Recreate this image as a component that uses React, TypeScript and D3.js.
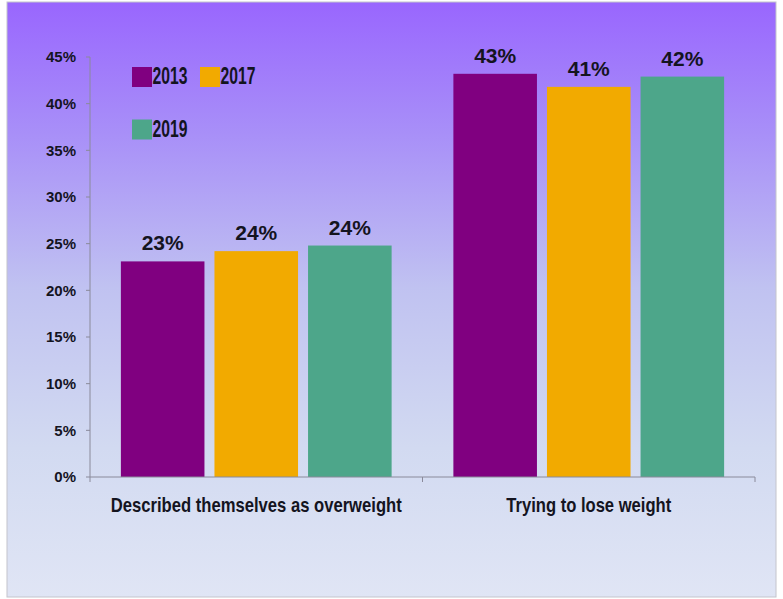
import React from "react";
import * as d3 from "d3";

const categories = ["Described themselves as overweight", "Trying to lose weight"];
const years = ["2013", "2017", "2019"];
const values2013 = [23.1, 43.2];
const values2017 = [24.2, 41.8];
const values2019 = [24.8, 42.9];
const labels2013 = ["23%", "43%"];
const labels2017 = ["24%", "41%"];
const labels2019 = ["24%", "42%"];
const yTicks = [0, 5, 10, 15, 20, 25, 30, 35, 40, 45];
const colors = ["#800080", "#F2AA00", "#4DA68A"];

const W = 783;
const H = 599;

export default function App() {
  const series = [
    { year: years[0], values: values2013, labels: labels2013, color: colors[0] },
    { year: years[1], values: values2017, labels: labels2017, color: colors[1] },
    { year: years[2], values: values2019, labels: labels2019, color: colors[2] },
  ];
  const x0 = d3.scaleBand<string>().domain(categories).range([90, 755]).padding(0);
  const x1 = d3
    .scaleBand<string>()
    .domain(years)
    .range([0, x0.bandwidth()])
    .paddingInner(0.107)
    .paddingOuter(0.33);
  const y = d3.scaleLinear().domain([0, 45]).range([477, 57]);
  const font = "'Liberation Sans', Arial, sans-serif";
  const textColor = "#14141f";
  const catLens = [291, 165];

  return (
    <svg
      width={W}
      height={H}
      style={{ position: "absolute", left: 0, top: 0, background: "#fff" }}
      fontFamily={font}
    >
      <defs>
        <linearGradient id="bg" x1="0" y1="0" x2="0" y2="1">
          <stop offset="0" stopColor="#9966FE" />
          <stop offset="0.22" stopColor="#A88FF8" />
          <stop offset="0.48" stopColor="#C0C2F1" />
          <stop offset="0.75" stopColor="#D2DAF1" />
          <stop offset="1" stopColor="#E0E5F5" />
        </linearGradient>
      </defs>
      <rect x={7} y={2} width={769} height={595} fill="url(#bg)" stroke="#c4c4cc" strokeWidth={1} />

      {/* y axis */}
      <line x1={90} x2={90} y1={y(45)} y2={y(0)} stroke="#8a8a9a" strokeWidth={1} />
      {yTicks.map((t) => (
        <g key={t}>
          <line x1={86} x2={90} y1={y(t)} y2={y(t)} stroke="#8a8a9a" />
          <text
            x={76}
            y={y(t)}
            dy="0.36em"
            textAnchor="end"
            fontSize={15}
            fontWeight="bold"
            fill={textColor}
          >
            {t + "%"}
          </text>
        </g>
      ))}

      {/* bars */}
      {categories.map((c, ci) => (
        <g key={c} transform={`translate(${x0(c)},0)`}>
          {series.map((s) => (
            <g key={s.year}>
              <rect
                x={x1(s.year)}
                y={y(s.values[ci])}
                width={x1.bandwidth()}
                height={y(0) - y(s.values[ci])}
                fill={s.color}
              />
              <text
                x={(x1(s.year) as number) + x1.bandwidth() / 2}
                y={y(s.values[ci]) - 11}
                textAnchor="middle"
                fontSize={21}
                fontWeight="bold"
                fill={textColor}
              >
                {s.labels[ci]}
              </text>
            </g>
          ))}
        </g>
      ))}

      {/* x axis */}
      <line x1={90} x2={755} y1={y(0)} y2={y(0)} stroke="#8a8a9a" />
      {[90, ...categories.map((c) => (x0(c) as number) + x0.bandwidth())].map((px, i) => (
        <line key={i} x1={px} x2={px} y1={y(0)} y2={y(0) + 5} stroke="#8a8a9a" />
      ))}
      {categories.map((c, ci) => (
        <text
          key={c}
          x={(x0(c) as number) + x0.bandwidth() / 2}
          y={512}
          textAnchor="middle"
          fontSize={20.5}
          fontWeight="bold"
          fill={textColor}
          textLength={catLens[ci]}
          lengthAdjust="spacingAndGlyphs"
        >
          {c}
        </text>
      ))}

      {/* legend */}
      {series.map((s, i) => {
        const lx = i === 1 ? 200 : 132;
        const ly = i === 2 ? 119.5 : 67;
        return (
          <g key={s.year}>
            <rect x={lx} y={ly} width={20} height={20} fill={s.color} />
            <text
              x={lx + 20.5}
              y={ly + 17}
              fontSize={23}
              fontWeight="bold"
              fill={textColor}
              textLength={35}
              lengthAdjust="spacingAndGlyphs"
            >
              {s.year}
            </text>
          </g>
        );
      })}
    </svg>
  );
}
